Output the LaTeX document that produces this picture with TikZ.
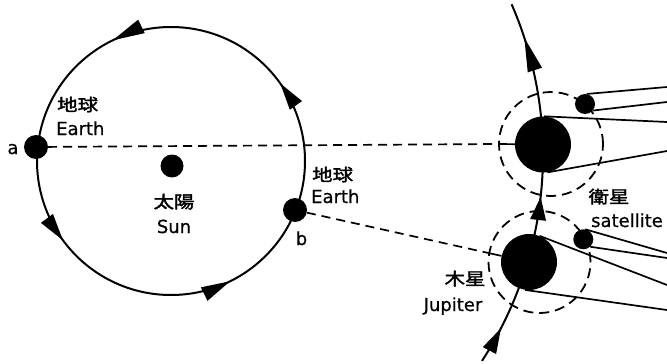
\documentclass[tikz,border=0pt]{standalone}
\usepackage{fontspec}
\usetikzlibrary{decorations.markings}
\newfontfamily\latinfont[FakeBold=0.6]{DejaVu Sans}
\newfontfamily\cjkfont[FakeStretch=1.2,FakeBold=2]{Noto Sans CJK JP}
\begin{document}
\begin{tikzpicture}[x=1pt,y=-1pt,
  planet/.style={circle,fill=black,inner sep=0pt},
  halo/.style={circle,draw,inner sep=0pt,line width=1.8pt,dash pattern=on 10pt off 6pt},
  orbitline/.style={line width=2pt},
  ray/.style={line width=1.7pt},
  sight/.style={line width=1.7pt,dash pattern=on 9pt off 6pt},
  lat/.style={font=\latinfont\fontsize{18}{20}\selectfont,inner sep=0pt},
  kan/.style={font=\cjkfont\fontsize{17}{19}\selectfont,inner sep=0pt},
  earthorbit/.style={postaction={decorate},decoration={markings,
    mark=at position 0.0983 with {\fill (0pt,0pt) -- (-27pt,7.5pt) -- (-27pt,-7.5pt) -- cycle;},
    mark=at position 0.3217 with {\fill (0pt,0pt) -- (-32pt,7.5pt) -- (-32pt,-7.5pt) -- cycle;},
    mark=at position 0.6006 with {\fill (0pt,0pt) -- (-27pt,7.5pt) -- (-27pt,-7.5pt) -- cycle;},
    mark=at position 0.8228 with {\fill (0pt,0pt) -- (-29pt,7.5pt) -- (-29pt,-7.5pt) -- cycle;}}},
  jupiterorbit/.style={postaction={decorate},decoration={markings,
    mark=at position 0.101 with {\fill (0pt,0pt) -- (-25pt,7.5pt) -- (-25pt,-7.5pt) -- cycle;},
    mark=at position 0.471 with {\fill (0pt,0pt) -- (-23pt,8pt) -- (-23pt,-8pt) -- cycle;},
    mark=at position 0.904 with {\fill (0pt,0pt) -- (-34pt,7.5pt) -- (-34pt,-7.5pt) -- cycle;}}}]

\fill[white] (0,0) rectangle (667,364);
\useasboundingbox (0,0) rectangle (667,364);

% orbits
\draw[orbitline,earthorbit] (171,161) ++(0:134) arc[start angle=0,end angle=-360,radius=134];
\draw[orbitline,jupiterorbit] (165,155) ++(33:378) arc[start angle=33,end angle=-23.5,radius=378];

% bodies
\node[planet,minimum size=23pt] (sun) at (172,166) {};
\node[planet,minimum size=24pt] (a) at (36,147) {};
\node[planet,minimum size=24pt] (b) at (295,210) {};
\node[halo,minimum size=104pt] (su) at (551,144) {};
\node[halo,minimum size=102pt] (sl) at (539.5,262) {};
\node[planet,minimum size=56pt] (ju) at (543,144.5) {};
\node[planet,minimum size=56pt] (jl) at (529,262) {};
\node[planet,minimum size=20pt] (sa1) at (585,104) {};
\node[planet,minimum size=20pt] (sa2) at (583.3,239.3) {};

% lines of sight from the Earth
\draw[sight] (a) -- (su.180);
\draw[ray] (su.180) -- (ju);
\draw[sight] (b) -- (sl.170);
\draw[ray] (sl.170) -- (jl);

% rays leaving to the right
\coordinate (r1) at (667,87);
\coordinate (r2) at (667,102);
\coordinate (r3) at (667,122);
\coordinate (r4) at (667,151);
\coordinate (r5) at (667,253);
\coordinate (r6) at (667,258);
\coordinate (r7) at (667,285);
\coordinate (r8) at (667,310);
\draw[ray] (sa1.80) -- (r1);
\draw[ray] (sa1.-40) -- (r2);
\draw[ray] (ju.88) -- (r3);
\draw[ray] (ju.-81) -- (r4);
\draw[ray] (sa2.79) -- (r5);
\draw[ray] (sa2.-47) -- (r6);
\draw[ray] (jl.68) -- (r7);
\draw[ray] (jl.-98) -- (r8);

% labels
\node[lat,anchor=base] (la) at (13,154) {a};
\node[kan,anchor=base west] (le1) at (57,111) {地球};
\node[lat,anchor=base west] (le2) at (56,135) {Earth};
\node[kan,anchor=base] (ls1) at (174,208) {太陽};
\node[lat,anchor=base] (ls2) at (174,233) {Sun};
\node[kan,anchor=base west] (lr1) at (312,181) {地球};
\node[lat,anchor=base west] (lr2) at (311,203) {Earth};
\node[lat,anchor=base] (lb) at (301.5,245) {b};
\node[kan,anchor=base] (lt1) at (609,203) {衛星};
\node[lat,anchor=base] (lt2) at (627,227) {satellite};
\node[kan,anchor=base] (lj1) at (465,285) {木星};
\node[lat,anchor=base] (lj2) at (453,311) {Jupiter};
\end{tikzpicture}
\end{document}
